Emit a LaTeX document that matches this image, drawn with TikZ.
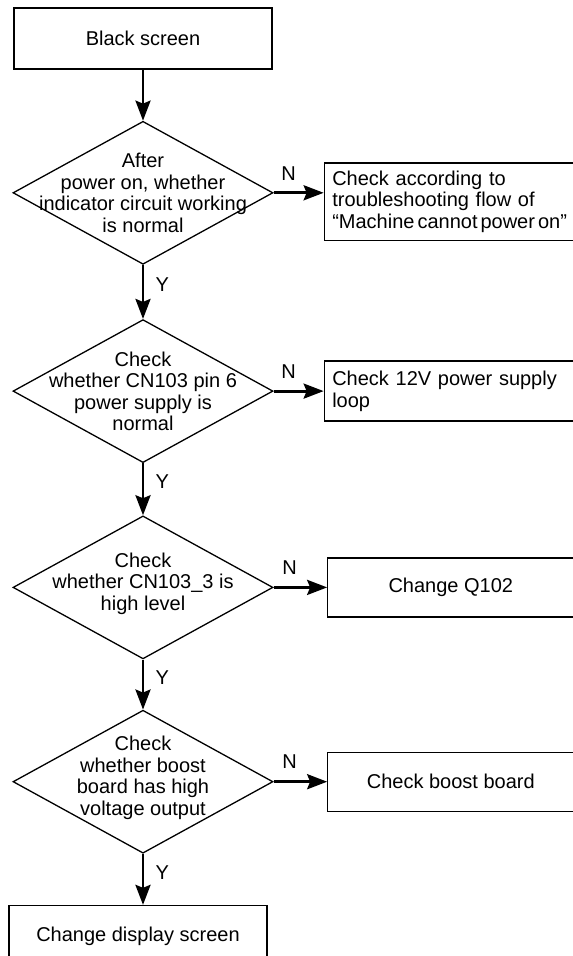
\documentclass[tikz,border=0pt]{standalone}
\usepackage{fontspec}
\setmainfont{Liberation Sans}
\usetikzlibrary{positioning,arrows.meta,shapes.geometric}

\begin{document}
\begin{tikzpicture}[
  x=1pt, y=1pt,
  font=\fontsize{20}{21.5}\selectfont,
  box/.style={draw, line width=1.3pt, minimum width=258pt,
              minimum height=61pt, align=center, inner sep=0pt},
  sidebox/.style={draw, line width=1.3pt, minimum height=60pt,
                  inner sep=8pt, anchor=west},
  decision/.style={diamond, draw, line width=1.3pt, minimum width=260pt,
                   minimum height=143pt, inner sep=0pt},
  dtext/.style={align=center, inner sep=0pt},
  arrow/.style={-{Stealth[length=20pt,width=15pt,inset=3pt]}, line width=2.8pt},
  yes/.style={pos=.36, right=8pt},
  no/.style={pos=.3, above=8pt}
]
\useasboundingbox (0,0) rectangle (573,-956);

\node[box] (start) at (143,-38.5) {Black screen};
\node[decision, below=51pt of start] (d1) {};
\node[decision, below=54pt of d1] (d2) {};
\node[decision, below=52pt of d2] (d3) {};
\node[decision, below=50pt of d3] (d4) {};
\node[box, below=51pt of d4, xshift=-5pt, minimum height=62pt] (fix) {Change display screen};

\node[dtext] (t1) at (d1) {After\\power on, whether\\indicator circuit working\\is normal};
\node[dtext] (t2) at (d2) {Check\\whether CN103 pin 6\\power supply is\\normal};
\node[dtext, yshift=4pt] (t3) at (d3) {Check\\whether CN103\_3 is\\high level};
\node[dtext, yshift=4pt] (t4) at (d4) {Check\\whether boost\\board has high\\voltage output};

% right hand branches
\node[sidebox, minimum width=250pt, minimum height=72pt, text width=234pt,
      align=left, right=50pt of d1, yshift=-9pt] (b1)
  {Check according to\\troubleshooting flow of\\\mbox{\spaceskip=.15em\relax ``Machine cannot power on''}};
\node[sidebox, minimum width=249pt, text width=233pt, align=left,
      right=50pt of d2] (b2) {Check 12V power supply\\loop};
\node[sidebox, minimum width=246pt, minimum height=59pt, align=center,
      right=53.5pt of d3] (b3) {Change Q102};
\node[sidebox, minimum width=246pt, minimum height=59pt, align=center,
      right=53.5pt of d4] (b4) {Check boost board};

\draw[arrow] (start) -- (d1);
\draw[arrow] (d1) -- node[yes] {Y} (d2);
\draw[arrow] (d2) -- node[yes] {Y} (d3);
\draw[arrow] (d3) -- node[yes] {Y} (d4);
\draw[arrow] (d4.south) -- node[yes] {Y} (d4.south |- fix.north);

\draw[arrow] (d1.east) -- node[no] {N} (d1.east -| b1.west);
\draw[arrow] (d2.east) -- node[no] {N} (d2.east -| b2.west);
\draw[arrow] (d3.east) -- node[no] {N} (d3.east -| b3.west);
\draw[arrow] (d4.east) -- node[no] {N} (d4.east -| b4.west);
\end{tikzpicture}
\end{document}
